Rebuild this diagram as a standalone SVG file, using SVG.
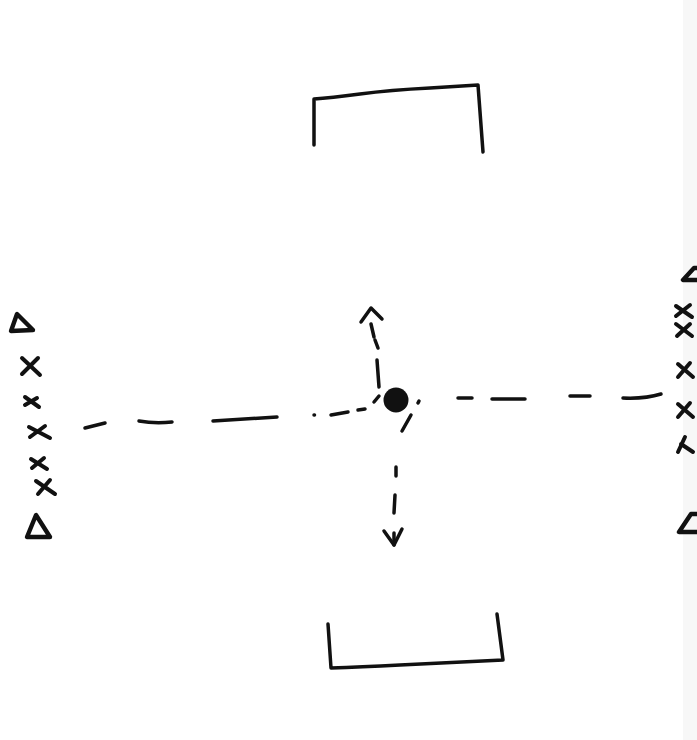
<svg xmlns="http://www.w3.org/2000/svg" width="697" height="740" viewBox="0 0 697 740">
<style>
.ink{fill:none;stroke:#111;stroke-linecap:round;stroke-linejoin:round}
.g{stroke-width:3.5}
.x{stroke-width:4}
.t{stroke-width:4.4}
.d{stroke-width:3.5}
</style>
<rect width="697" height="740" fill="#ffffff"/>
<rect x="683" y="0" width="14" height="740" fill="#f7f7f7"/>
<g id="top-goal" class="ink g"><path d="M314,145 L314,99 Q330,98 360,94 T430,88 L478,85 L483,152"/></g>
<g id="bottom-goal" class="ink g"><path d="M328,624 L331,668 Q360,667 400,665 T503,660 L497,614"/></g>
<g id="left-team" class="ink">
<path class="t" d="M17,314 L11,331 L33,330 Z"/>
<path class="x" d="M22,358 L40,375 M38,358 L22,374"/>
<path class="x" d="M25,397 L39,407 M37,398 L25,405"/>
<path class="x" d="M29,427 L50,438 M45,426 L30,437"/>
<path class="x" d="M31,459 L47,469 M44,458 L32,468"/>
<path class="x" d="M36,481 L55,494 M50,480 L38,494"/>
<path class="t" d="M36,515 L27,537 L50,537 Z"/>
</g>
<g id="right-team" class="ink">
<path class="t" d="M697,268 L694,268 L683,280 L697,280"/>
<path class="x" d="M676,306 L692,317 M690,305 L676,316"/>
<path class="x" d="M676,324 L692,336 M690,324 L677,336"/>
<path class="x" d="M678,364 L693,377 M690,363 L678,377"/>
<path class="x" d="M678,404 L693,417 M690,403 L678,417"/>
<path class="x" d="M678,452 L685,437 M681,444 L693,452"/>
<path class="t" d="M697,514 L691,514 L679,532 L697,532"/>
</g>
<g id="ball"><circle cx="396" cy="400" r="12.5" fill="#111"/></g>
<g id="connectors" class="ink d">
<path d="M85,428 L105,423"/>
<path d="M139,421 Q155,424 172,422"/>
<path d="M213,421 L277,417"/>
<path d="M314,415 L314.5,415"/>
<path d="M331,415 L348,412"/>
<path d="M358,410 L365,409"/>
<path d="M374,402 L379,396"/>
<path d="M379,387 L377,360"/>
<path d="M375,340 L378,348"/>
<path d="M371,324 L374,337"/>
<path d="M361,322 L371,308 L382,319"/>
<path d="M418,403 L419,401"/>
<path d="M402,431 L411,415"/>
<path d="M458,398 L472,398"/>
<path d="M492,399 L525,399"/>
<path d="M570,396 L590,396"/>
<path d="M623,398 Q645,399 661,394"/>
<path d="M396,467 L396,476"/>
<path d="M395,495 L394,513"/>
<path d="M394,533 L394,545"/>
<path d="M384,531 L394,545 L402,529"/>
</g>
</svg>
